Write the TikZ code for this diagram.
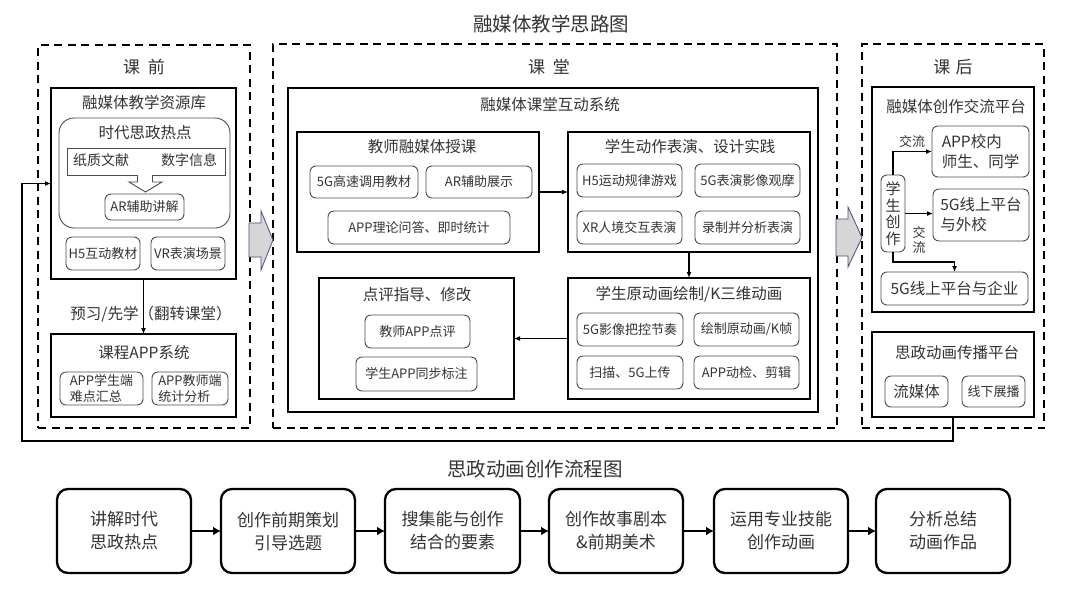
\documentclass[tikz,border=0pt]{standalone}
\usepackage{fontspec}
\setmainfont{Noto Sans CJK SC}
\usetikzlibrary{arrows.meta}
\newcommand\mybox[7]{\node[#6, minimum width={#4-#2}, minimum height={#5-#3}] (#1) at ({(#2+#4)/2},{(#3+#5)/2}) {#7};}
\tikzset{
  every node/.style={text=black!80, inner sep=0pt, outer sep=0pt},
  fa/.style={font=\fontsize{13}{15.5}\selectfont},
  fb/.style={font=\fontsize{14}{16}\selectfont},
  fc/.style={font=\fontsize{15.5}{18}\selectfont},
  fd/.style={font=\fontsize{17}{20}\selectfont},
  fe/.style={font=\fontsize{19.5}{22}\selectfont},
  dbox/.style={draw=black, line width=1.3pt, dash pattern=on 8pt off 5.5pt},
  sbox/.style={draw=black, line width=1.4pt},
  ibox/.style={draw=black!70, line width=0.9pt, rounded corners=6pt, fa, align=center},
  arr/.style={draw=black, line width=1.2pt, -{Latex[length=6pt,width=5pt]}},
  flowbox/.style={draw=black, line width=2.3pt, rounded corners=11pt, align=center, font=\fontsize{17}{23}\selectfont},
  flowarr/.style={draw=black, line width=2.8pt, -{Latex[length=8pt,width=9pt]}},
  bigarr/.style={fill=black!16, draw=black!45!blue!40!gray, line width=0.8pt}
}
\begin{document}
\begin{tikzpicture}[x=1pt,y=-1pt]
\useasboundingbox (0,0) rectangle (1077,606);
\fill[white] (0,0) rectangle (1077,606);

\node[fe] (title) at (551,24) {融媒体教学思路图};

% ---------- left: 课前 ----------
\mybox{pre}{38}{45}{250}{428}{dbox}{}
\node[fd] (preT) at (144,67) {课\hspace{0.45em}前};
\mybox{res}{51}{88}{236}{279}{sbox}{}
\node[fc] (resT) at (144,103) {融媒体教学资源库};
\mybox{hot}{59}{118}{230}{228}{draw=black!70, line width=0.9pt, rounded corners=15pt}{}
\node[fc] (hotT) at (145,133) {时代思政热点};
\mybox{doc}{67}{148}{225}{175}{draw=black!70, line width=0.9pt}{}
\node[fb] (docA) at (101,160) {纸质文献};
\node[fb] (docB) at (189,160) {数字信息};
\fill[white] (137.5,174) -- (137.5,182) -- (129,182) -- (145.5,192) -- (162,182) -- (152.5,182) -- (152.5,174) -- cycle;
\draw[black!70, line width=0.9pt] (137.5,175) -- (137.5,182) -- (129,182) -- (145.5,192) -- (162,182) -- (152.5,182) -- (152.5,175);
\mybox{ar}{105}{194}{184}{220}{ibox}{AR辅助讲解}
\mybox{hfive}{66}{237}{140}{270}{ibox}{H5互动教材}
\mybox{vr}{151}{237}{225}{270}{ibox}{VR表演场景}
\mybox{app}{51}{334}{236}{417}{sbox}{}
\node[fc] (appT) at (144,353) {课程APP系统};
\mybox{appS}{60}{372}{143}{405}{ibox, align=left}{APP学生端\\难点汇总}
\mybox{appJ}{152}{372}{228}{405}{ibox, align=left}{APP教师端\\统计分析}
\draw[arr] (res.south) -- (app.north);
\node[fc] (preL) at (151,314) {预习/先学（翻转课堂）};

% ---------- middle: 课堂 ----------
\mybox{cls}{273}{44}{837}{428}{dbox}{}
\node[fd] (clsT) at (549,67) {课\hspace{0.45em}堂};
\mybox{sys}{288}{88}{818}{412}{sbox}{}
\node[fc] (sysT) at (550,105) {融媒体课堂互动系统};
\mybox{tch}{297}{132}{539}{252}{sbox}{}
\node[fc] (tchT) at (422,147) {教师融媒体授课};
\mybox{tA}{310}{166}{418}{198}{ibox}{5G高速调用教材}
\mybox{tB}{426}{166}{532}{198}{ibox}{AR辅助展示}
\mybox{tC}{328}{211}{510}{244}{ibox}{APP理论问答、即时统计}
\mybox{stu}{568}{132}{810}{252}{sbox}{}
\node[fc] (stuT) at (690,147) {学生动作表演、设计实践};
\mybox{sA}{577}{164}{682}{197}{ibox}{H5运动规律游戏}
\mybox{sB}{695}{164}{800}{197}{ibox}{5G表演影像观摩}
\mybox{sC}{577}{211}{682}{244}{ibox}{XR人境交互表演}
\mybox{sD}{695}{211}{800}{244}{ibox}{录制并分析表演}
\mybox{ani}{568}{278}{810}{399}{sbox}{}
\node[fc] (aniT) at (689,294) {学生原动画绘制/K三维动画};
\mybox{aA}{577}{313}{683}{346}{ibox}{5G影像把控节奏}
\mybox{aB}{694}{313}{799}{346}{ibox}{绘制原动画/K帧}
\mybox{aC}{577}{356}{683}{389}{ibox}{扫描、5G上传}
\mybox{aD}{694}{356}{799}{389}{ibox}{APP动检、剪辑}
\mybox{cmt}{319}{278}{514}{399}{sbox}{}
\node[fc] (cmtT) at (417,295) {点评指导、修改};
\mybox{cA}{365}{315}{470}{348}{ibox}{教师APP点评}
\mybox{cB}{356}{357}{477}{391}{ibox}{学生APP同步标注}
\draw[arr] (tch.east) -- (stu.west);
\draw[arr] (stu.south) -- (ani.north);
\draw[arr] (ani.west) -- (cmt.east);

% ---------- right: 课后 ----------
\mybox{post}{862}{44}{1044}{428}{dbox}{}
\node[fd] (postT) at (953,67) {课\hspace{0.3em}后};
\mybox{plat}{872}{87}{1034}{312}{sbox}{}
\node[fc] (platT) at (956,107) {融媒体创作交流平台};
\mybox{sc}{881}{175}{905}{252}{ibox, font=\fontsize{15}{16.5}\selectfont}{学\\生\\创\\作}
\mybox{ain}{932}{126}{1029}{177}{ibox, align=left, font=\fontsize{15.5}{20}\selectfont}{APP校内\\师生、同学}
\mybox{wx}{933}{189}{1029}{241}{ibox, align=left, font=\fontsize{15.5}{20}\selectfont}{5G线上平台\\与外校}
\mybox{ent}{881}{272}{1028}{305}{ibox, font=\fontsize{15.5}{18}\selectfont}{5G线上平台与企业}
\draw[arr] (sc.north) |- (ain.west);
\draw[arr] (sc.east) -- (sc.east -| wx.west);
\draw[arr] (sc.south) -- ++(0,10) -| (ent.north);
\node[fa] (labA) at (912,142) {交流};
\node[fa, align=center] (labB) at (919,240) {交\\流};
\mybox{spr}{872}{332}{1034}{417}{sbox}{}
\node[fc] (sprT) at (957,353) {思政动画传播平台};
\mybox{spA}{885}{376}{948}{407}{ibox, font=\fontsize{15.5}{18}\selectfont}{流媒体}
\mybox{spB}{962}{376}{1025}{407}{ibox}{线下展播}

% ---------- feedback line ----------
\coordinate (fbk) at (22,441);
\draw[arr] (spr.south) -- (spr.south |- fbk) -- (fbk) |- (res.west);

% ---------- big grey arrows ----------
\draw[bigarr] (249,223) -- (261,223) -- (261,211) -- (273,240) -- (261,270) -- (261,257) -- (249,257) -- cycle;
\draw[bigarr] (836,219) -- (848,219) -- (848,207) -- (862,237.5) -- (848,267) -- (848,256) -- (836,256) -- cycle;

% ---------- bottom flow ----------
\node[fe] (flowT) at (535,469) {思政动画创作流程图};
\mybox{fA}{57}{489}{191}{573}{flowbox}{讲解时代\\思政热点}
\mybox{fB}{221}{489}{355}{573}{flowbox}{创作前期策划\\引导选题}
\mybox{fC}{385}{489}{520}{573}{flowbox}{搜集能与创作\\结合的要素}
\mybox{fD}{549}{489}{683}{573}{flowbox}{创作故事剧本\\\&前期美术}
\mybox{fE}{714}{489}{848}{573}{flowbox}{运用专业技能\\创作动画}
\mybox{fF}{876}{489}{1010}{573}{flowbox}{分析总结\\动画作品}
\draw[flowarr] (fA.east) -- (fB.west);
\draw[flowarr] (fB.east) -- (fC.west);
\draw[flowarr] (fC.east) -- (fD.west);
\draw[flowarr] (fD.east) -- (fE.west);
\draw[flowarr] (fE.east) -- (fF.west);
\end{tikzpicture}
\end{document}
